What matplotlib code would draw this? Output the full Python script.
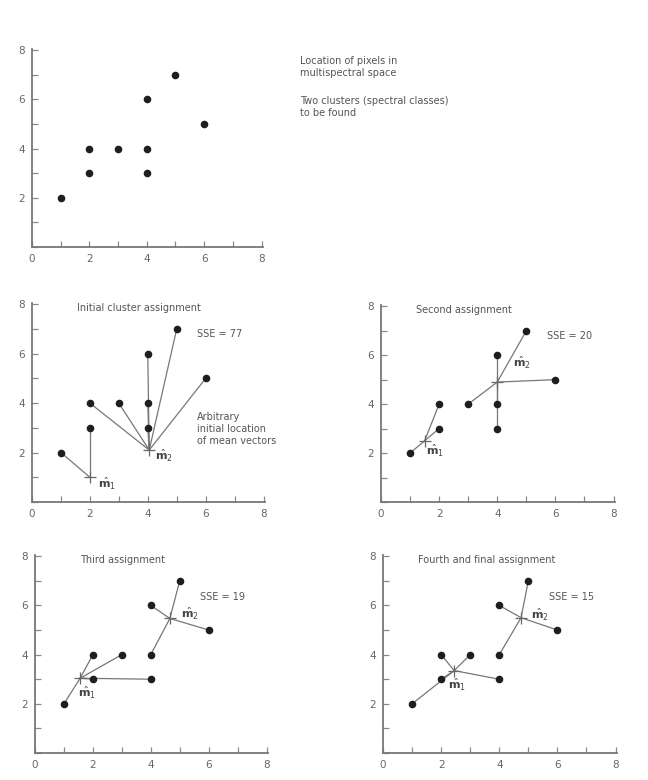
import matplotlib
matplotlib.use("Agg")
import matplotlib.pyplot as plt
from matplotlib.ticker import MultipleLocator, FuncFormatter

# pixel locations in multispectral space
px = [1, 2, 2, 3, 4, 4, 4, 5, 6]
py = [2, 3, 4, 4, 3, 4, 6, 7, 5]

# mean vectors shown in each iteration panel (m1, m2)
means = [
    [(2.0, 1.0), (4.05, 2.1)],
    [(1.5, 2.5), (4.0, 4.9)],
    [(1.56, 3.04), (4.66, 5.47)],
    [(2.45, 3.35), (4.75, 5.5)],
]
# cluster membership of each pixel (0 -> m1, 1 -> m2)
assign = [
    [0, 0, 1, 1, 1, 1, 1, 1, 1],
    [0, 0, 0, 1, 1, 1, 1, 1, 1],
    [0, 0, 0, 0, 0, 1, 1, 1, 1],
    [0, 0, 0, 0, 0, 1, 1, 1, 1],
]
titles = ["Initial cluster assignment", "Second assignment",
          "Third assignment", "Fourth and final assignment"]
sse = [77, 20, 19, 15]
# where the mean labels sit (m1, m2)
label_pos = [
    [(2.6, 0.75), (4.55, 1.85)],
    [(1.85, 2.1), (4.85, 5.7)],
    [(1.8, 2.45), (5.35, 5.65)],
    [(2.55, 2.75), (5.4, 5.6)],
]

W, H = 648, 780
ink = "#555555"
dot = "#1e1e1e"

fig = plt.figure(figsize=(W / 100, H / 100), dpi=100)


def make_axes(x0, x1, top, bottom):
    ax = fig.add_axes([x0 / W, (H - bottom) / H, (x1 - x0) / W, (bottom - top) / H])
    ax.set_xlim(0, 8.05)
    ax.set_ylim(0, 8.05)
    for s in ["top", "right"]:
        ax.spines[s].set_visible(False)
    for s in ["left", "bottom"]:
        ax.spines[s].set_color("#777777")
        ax.spines[s].set_linewidth(1.3)
    ax.xaxis.set_major_locator(MultipleLocator(1))
    ax.yaxis.set_major_locator(MultipleLocator(1))
    ax.xaxis.set_major_formatter(FuncFormatter(lambda v, p: f"{v:.0f}" if v % 2 == 0 else ""))
    ax.yaxis.set_major_formatter(FuncFormatter(lambda v, p: f"{v:.0f}" if v % 2 == 0 and v > 0 else ""))
    ax.tick_params(direction="in", length=4, width=0.9, color="#888888",
                   labelcolor="#666666", labelsize=7.5, pad=5)
    return ax


# top panel: raw pixels
ax0 = make_axes(32, 263, 49, 247)
ax0.scatter(px, py, s=20, color=dot, zorder=3)
fig.text(300 / W, 1 - 56 / H, "Location of pixels in\nmultispectral space",
         fontsize=7, color=ink, va="top", linespacing=1.3)
fig.text(300 / W, 1 - 96 / H, "Two clusters (spectral classes)\nto be found",
         fontsize=7, color=ink, va="top", linespacing=1.3)

boxes = [(32, 265, 303, 502), (381, 615, 305, 502),
         (35, 268, 555, 753), (383, 617, 555, 753)]

for k, (x0, x1, top, bottom) in enumerate(boxes):
    ax = make_axes(x0, x1, top, bottom)
    for i in range(len(px)):
        mx, my = means[k][assign[k][i]]
        ax.plot([px[i], mx], [py[i], my], color="#777777", lw=0.9, zorder=2)
    ax.scatter(px, py, s=20, color=dot, zorder=3)
    for j, (mx, my) in enumerate(means[k]):
        ax.plot(mx, my, marker="+", ms=8, mew=0.9, color="#666666", zorder=4)
        lx, ly = label_pos[k][j]
        ax.text(lx, ly, r"$\hat{\mathbf{m}}_%d$" % (j + 1), fontsize=8,
                color="#444444", ha="center", va="center")
    ax.text(1.55 if k % 2 == 0 else 1.2, 7.85, titles[k], fontsize=7, color=ink,
            va="center", ha="left")
    ax.text(5.7, 6.8 if k < 2 else 6.35, f"SSE = {sse[k]}", fontsize=7, color=ink,
            va="center", ha="left")
    if k == 0:
        ax.text(5.7, 2.95, "Arbitrary\ninitial location\nof mean vectors",
                fontsize=7, color=ink, va="center", ha="left", linespacing=1.2)

fig.savefig("out.png", dpi=100, facecolor="white")
